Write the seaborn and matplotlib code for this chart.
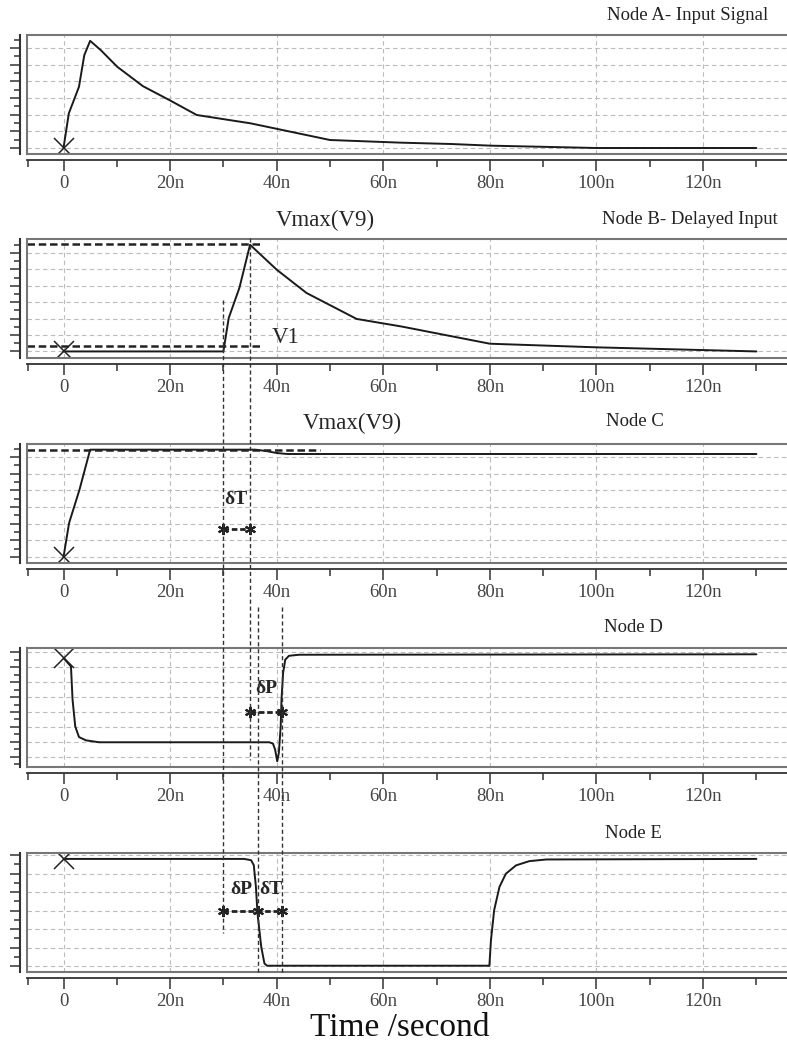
import matplotlib
matplotlib.use('Agg')
import matplotlib.pyplot as plt
import seaborn as sns
from matplotlib import transforms
from matplotlib.lines import Line2D
from matplotlib.ticker import FixedLocator

# node waveforms (time in ns, value in grid units)
t_a = [0, 1.0, 2.9, 3.9, 5.0, 7.0, 10.1, 14.9, 19.9, 25.0, 35.1, 50.0, 63.3, 72.7, 80.2, 100, 130]
v_a = [0, 2.08, 3.67, 5.57, 6.43, 5.87, 4.87, 3.71, 2.87, 1.98, 1.48, 0.48, 0.32, 0.24, 0.14, 0.0, 0.0]

t_b = [0, 30, 31, 33, 35, 40, 45.6, 55, 63.4, 80, 100, 130]
v_b = [0, 0, 2.04, 3.87, 6.5, 4.98, 3.56, 1.98, 1.52, 0.47, 0.25, 0.0]

t_c = [0, 1.05, 3.0, 5.0, 36.0, 38, 40, 42, 130]
v_c = [0, 2.04, 4.04, 6.44, 6.44, 6.36, 6.24, 6.18, 6.18]

t_d = [0, 0.75, 1.4, 1.7, 2.2, 2.9, 4.2, 6.7, 38.6, 39.3, 39.7, 40.1, 40.4, 40.75, 40.9, 41.2, 41.6, 42.3, 44.2, 130]
v_d = [6.6, 6.3, 6.04, 3.82, 2.04, 1.33, 1.11, 0.98, 0.98, 0.89, 0.49, -0.29, 0.27, 2.04, 3.82, 5.6, 6.49, 6.75, 6.82, 6.85]

t_e = [0, 33.9, 35.2, 35.7, 36.1, 36.4, 37.1, 37.7, 38.2, 79.9, 80.2, 80.8, 81.8, 83.0, 84.9, 87.4, 90.6, 130]
v_e = [5.8, 5.8, 5.73, 5.46, 4.29, 2.85, 1.04, 0.14, 0.02, 0.02, 1.4, 3.03, 4.29, 5.0, 5.45, 5.68, 5.77, 5.8]

titles = ["Node A- Input Signal", "Node B- Delayed Input", "Node C", "Node D", "Node E"]
tick_vals = [0, 20, 40, 60, 80, 100, 120]
tick_labels = ["0", "20n", "40n", "60n", "80n", "100n", "120n"]
minor_vals = [10, 30, 50, 70, 90, 110, 130]

# marker times used for the delay annotations
t_start = 30
t_peak = 35
t_switch = 36.5
t_recover = 41
vmax_b, v1_b, vmax_c = 6.57, 0.35, 6.44

sns.set_style('white')
plt.rcParams['font.family'] = ['Liberation Serif', 'DejaVu Serif']

W, H = 787, 1045
fig = plt.figure(figsize=(W / 100, H / 100), dpi=100)

px_n = 5.33
zero_px = 63.5
box_l, box_r = 27, 792
xlim = ((box_l - zero_px) / px_n, (box_r - zero_px) / px_n)

panels = [
    (t_a, v_a, 7, 35, 154, (-0.36, 6.78)),
    (t_b, v_b, 7, 239, 358, (-0.40, 6.85)),
    (t_c, v_c, 7, 444, 563, (-0.36, 6.78)),
    (t_d, v_d, 8, 648, 767, (-0.67, 7.27)),
    (t_e, v_e, 7, 853, 972, (-0.32, 6.12)),
]

axes = []
for t, v, ng, top, bot, ylim in panels:
    ax = fig.add_axes([box_l / W, 1 - bot / H, (box_r - box_l) / W, (bot - top) / H])
    sns.lineplot(x=t, y=v, ax=ax, color='#1a1a1a', lw=1.4)
    ax.plot(t[0], v[0], marker='x', ms=15, mew=1.1, color='#222222')
    ax.set(xlabel='', ylabel='')
    ax.set_xlim(xlim)
    ax.set_ylim(ylim)
    ax.set_xticks(tick_vals)
    ax.set_yticks(range(ng))
    ax.grid(True, ls=(0, (4, 3)), color='#bbbbbb', lw=0.8)
    ax.tick_params(length=0, labelbottom=False, labelleft=False)
    for s in ax.spines.values():
        s.set_color('#777777')
        s.set_linewidth(1.5)

    sx = ax.secondary_xaxis(-6 / (bot - top))
    sx.set_xticks(tick_vals, labels=tick_labels)
    sx.xaxis.set_minor_locator(FixedLocator(minor_vals + [xlim[0] + 0.1]))
    sx.tick_params(which='major', bottom=True, direction='out', length=8, width=1.1,
                   color='#333333', labelsize=13.5, labelcolor='#444444', pad=3)
    sx.tick_params(which='minor', bottom=True, direction='out', length=5, width=1.1, color='#333333')
    sx.spines['bottom'].set_color('#333333')
    sx.spines['bottom'].set_linewidth(1.3)

    sy = ax.secondary_yaxis(-7 / (box_r - box_l))
    sy.set_yticks(range(ng))
    sy.yaxis.set_minor_locator(FixedLocator([k + 0.5 for k in range(-1, ng)]))
    sy.tick_params(which='major', left=True, direction='out', length=7, width=1.1,
                   color='#333333', labelleft=False)
    sy.tick_params(which='minor', left=True, direction='out', length=4, width=1.1, color='#333333')
    sy.spines['left'].set_color('#333333')
    sy.spines['left'].set_linewidth(1.5)
    axes.append(ax)

ax_a, ax_b, ax_c, ax_d, ax_e = axes

# titles
tk = dict(va='center', fontsize=13.5, color='#222222')
fig.text(768 / W, 1 - 16 / H, titles[0], ha='right', **tk)
fig.text(778 / W, 1 - 220 / H, titles[1], ha='right', **tk)
fig.text(635 / W, 1 - 421 / H, titles[2], ha='center', **tk)
fig.text(633 / W, 1 - 628 / H, titles[3], ha='center', **tk)
fig.text(633 / W, 1 - 833 / H, titles[4], ha='center', **tk)
fig.text(400 / W, 1 - 1028 / H, "Time /second", ha='center', va='center', fontsize=24, color='#111111')

# reference levels
hl = dict(color='#222222', lw=1.8, ls=(0, (3, 1.5)))
ax_b.plot([xlim[0], 37.2], [vmax_b, vmax_b], **hl)
ax_b.plot([xlim[0], 37.2], [v1_b, v1_b], **hl)
ax_c.plot([xlim[0], 48.1], [vmax_c, vmax_c], **hl)
ax_b.text(49.2, 7.97, "Vmax(V9)", ha='center', va='center', fontsize=16.5, clip_on=False)
ax_b.text(41.6, 0.84, "V1", ha='center', va='center', fontsize=16.5)
ax_c.text(54.1, 8.0, "Vmax(V9)", ha='center', va='center', fontsize=16.5, clip_on=False)

# delay markers
mk = dict(color='#222222', lw=2, ls=(0, (2, 1)), marker=(6, 2, 0), ms=8, mew=1.5)
bf = dict(ha='center', va='center', fontsize=14, fontweight='bold')
ax_c.plot([t_start, t_peak], [1.7, 1.7], **mk)
ax_c.text(32.3, 3.44, "δT", **bf)
ax_d.plot([t_peak, t_recover], [3.02, 3.02], **mk)
ax_d.text(38.0, 4.55, "δP", **bf)
ax_e.plot([t_start, t_switch, t_recover], [2.97, 2.97, 2.97], **mk)
ax_e.text(33.4, 4.16, "δP", **bf)
ax_e.text(38.9, 4.16, "δT", **bf)

# vertical guide lines across panels
trans = transforms.blended_transform_factory(ax_a.transData, fig.transFigure)
vl = dict(color='#333333', lw=1.0, ls=(0, (3, 2)), transform=trans)
for x, y0, y1 in [(t_start, 300, 933), (t_peak, 238, 760), (t_switch, 607, 975), (t_recover, 607, 975)]:
    fig.add_artist(Line2D([x, x], [1 - y0 / H, 1 - y1 / H], **vl))

fig.savefig('out.png', dpi=100)
